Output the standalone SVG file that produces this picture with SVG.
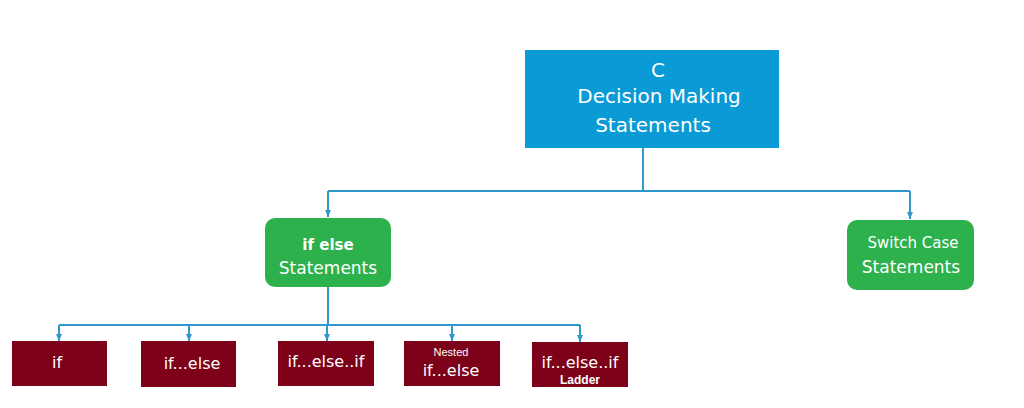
<svg xmlns="http://www.w3.org/2000/svg" width="1024" height="408" viewBox="0 0 1024 408">
<defs>
<style>
.t{font-family:"DejaVu Sans","Noto Sans",sans-serif;fill:#fff;text-anchor:middle}
.a{font-family:"Liberation Sans",Arial,sans-serif}
.conn{stroke:#2f97cc;stroke-width:2;fill:none}
.red{fill:#7d0118}
.green{fill:#2cb14c}
</style>
<marker id="ah" viewBox="0 0 8 8" refX="7" refY="4" markerWidth="8" markerHeight="8" orient="auto" markerUnits="userSpaceOnUse">
<path d="M0,1 L7,4 L0,7 Z" fill="#2f97cc"/>
</marker>
</defs>
<rect width="1024" height="408" fill="#fff"/>
<g id="connectors">
<path class="conn" d="M643,148 V191"/>
<path class="conn" d="M328,191 H910"/>
<path class="conn" d="M328,191 V217" marker-end="url(#ah)"/>
<path class="conn" d="M910,191 V219" marker-end="url(#ah)"/>
<path class="conn" d="M328,287 V325"/>
<path class="conn" d="M59,325 H580"/>
<path class="conn" d="M59,325 V341" marker-end="url(#ah)"/>
<path class="conn" d="M189,325 V341" marker-end="url(#ah)"/>
<path class="conn" d="M327,325 V341" marker-end="url(#ah)"/>
<path class="conn" d="M452,325 V341" marker-end="url(#ah)"/>
<path class="conn" d="M580,325 V342" marker-end="url(#ah)"/>
</g>
<g id="root">
<rect x="525" y="50" width="254" height="98" fill="#0a9ad6"/>
<text class="t" x="658" y="77" font-size="20">C</text>
<text class="t" x="659" y="103" font-size="20">Decision Making</text>
<text class="t" x="653" y="132" font-size="20">Statements</text>
</g>
<g id="ifelse">
<rect class="green" x="265" y="218" width="126" height="69" rx="10"/>
<text class="t" x="328" y="250" font-size="15" font-weight="bold">if else</text>
<text class="t" x="328" y="274" font-size="17">Statements</text>
</g>
<g id="switch">
<rect class="green" x="847" y="220" width="127" height="70" rx="10"/>
<text class="t" x="913" y="248" font-size="15">Switch Case</text>
<text class="t" x="911" y="273" font-size="17">Statements</text>
</g>
<g id="n-if">
<rect class="red" x="12" y="341" width="95" height="45"/>
<text class="t" x="57" y="368" font-size="16">if</text>
</g>
<g id="n-ifelse">
<rect class="red" x="141" y="341" width="95" height="46"/>
<text class="t" x="192" y="369" font-size="16">if...else</text>
</g>
<g id="n-ifelseif">
<rect class="red" x="278" y="341" width="96" height="45"/>
<text class="t" x="326" y="367" font-size="16">if...else..if</text>
</g>
<g id="n-nested">
<rect class="red" x="404" y="341" width="96" height="45"/>
<text class="t a" x="451" y="356" font-size="11">Nested</text>
<text class="t" x="451" y="376" font-size="16">if...else</text>
</g>
<g id="n-ladder">
<rect class="red" x="532" y="342" width="96" height="45"/>
<text class="t" x="580" y="368" font-size="16">if...else..if</text>
<text class="t a" x="580" y="384" font-size="12" font-weight="bold">Ladder</text>
</g>
</svg>
